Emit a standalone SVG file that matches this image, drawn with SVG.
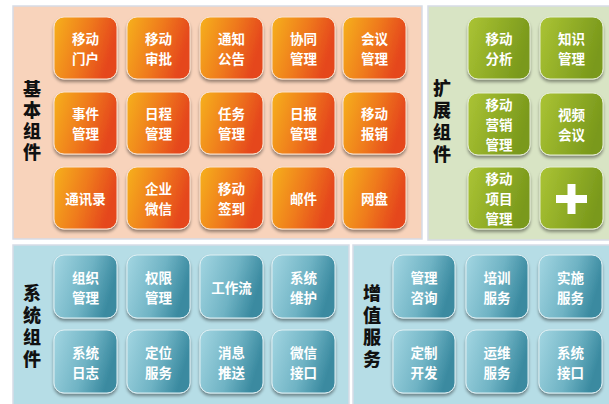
<svg xmlns="http://www.w3.org/2000/svg" width="609" height="404" viewBox="0 0 609 404">
<defs>
<linearGradient id="gO" x1="0" y1="0" x2="1" y2="0.3"><stop offset="0" stop-color="#f6b11d"/><stop offset="0.55" stop-color="#ef7a1c"/><stop offset="1" stop-color="#e5461a"/></linearGradient>
<linearGradient id="gG" x1="0" y1="0" x2="1" y2="0.3"><stop offset="0" stop-color="#abc434"/><stop offset="1" stop-color="#7a991c"/></linearGradient>
<linearGradient id="gB" x1="0" y1="0" x2="1" y2="0.3"><stop offset="0" stop-color="#a3d6e2"/><stop offset="0.6" stop-color="#6fb3c4"/><stop offset="1" stop-color="#3a8aa0"/></linearGradient>
<filter id="sh" x="-20%" y="-20%" width="140%" height="150%"><feDropShadow dx="0" dy="2.5" stdDeviation="1.5" flood-color="#000" flood-opacity="0.4"/></filter>
</defs>
<style>
.pO{fill:#f8d3bb;stroke:#d6dbe6;stroke-width:1.5}
.pG{fill:#d8e4c4;stroke:#d6dbe6;stroke-width:1.5}
.pB{fill:#b6dde6;stroke:#d6dbe6;stroke-width:1.5}
.tO{fill:url(#gO);stroke:#fbe3cf;stroke-width:1;filter:url(#sh)}
.tG{fill:url(#gG);stroke:#e6eed6;stroke-width:1;filter:url(#sh)}
.tB{fill:url(#gB);stroke:#dff0f4;stroke-width:1;filter:url(#sh)}
text{font-family:"Noto Sans CJK SC","Noto Sans",sans-serif;text-anchor:middle;dominant-baseline:central}
.t{font-size:13.5px;font-weight:700;fill:#fff}
.h{font-size:18px;font-weight:900;fill:#111;writing-mode:vertical-rl;letter-spacing:4px}
</style>
<rect width="609" height="404" fill="#fff"/>
<g id="panels">
<rect class="pO" x="13" y="6" width="409" height="233"/>
<rect class="pG" x="428" y="6" width="185" height="234"/>
<rect class="pB" x="13" y="245" width="336" height="160"/>
<rect class="pB" x="353" y="245" width="260" height="160"/>
</g>
<g id="label-basic"><text class="h" x="32" y="122" style="letter-spacing:3px">基本组件</text></g>
<g id="label-ext"><text class="h" x="442" y="123">扩展组件</text></g>
<g id="label-sys"><text class="h" x="32" y="328">系统组件</text></g>
<g id="label-svc"><text class="h" x="372" y="328">增值服务</text></g>

<g id="o11"><rect class="tO" x="54" y="17" width="63" height="62" rx="10"/><text class="t" x="85.5" y="38.4">移动</text><text class="t" x="85.5" y="58">门户</text></g>
<g id="o12"><rect class="tO" x="127" y="17" width="63" height="62" rx="10"/><text class="t" x="158.5" y="38.4">移动</text><text class="t" x="158.5" y="58">审批</text></g>
<g id="o13"><rect class="tO" x="200" y="17" width="63" height="62" rx="10"/><text class="t" x="231.5" y="38.4">通知</text><text class="t" x="231.5" y="58">公告</text></g>
<g id="o14"><rect class="tO" x="272" y="17" width="63" height="62" rx="10"/><text class="t" x="303.5" y="38.4">协同</text><text class="t" x="303.5" y="58">管理</text></g>
<g id="o15"><rect class="tO" x="343" y="17" width="63" height="62" rx="10"/><text class="t" x="374.5" y="38.4">会议</text><text class="t" x="374.5" y="58">管理</text></g>

<g id="o21"><rect class="tO" x="54" y="92" width="63" height="62" rx="10"/><text class="t" x="85.5" y="113.4">事件</text><text class="t" x="85.5" y="133">管理</text></g>
<g id="o22"><rect class="tO" x="127" y="92" width="63" height="62" rx="10"/><text class="t" x="158.5" y="113.4">日程</text><text class="t" x="158.5" y="133">管理</text></g>
<g id="o23"><rect class="tO" x="200" y="92" width="63" height="62" rx="10"/><text class="t" x="231.5" y="113.4">任务</text><text class="t" x="231.5" y="133">管理</text></g>
<g id="o24"><rect class="tO" x="272" y="92" width="63" height="62" rx="10"/><text class="t" x="303.5" y="113.4">日报</text><text class="t" x="303.5" y="133">管理</text></g>
<g id="o25"><rect class="tO" x="343" y="92" width="63" height="62" rx="10"/><text class="t" x="374.5" y="113.4">移动</text><text class="t" x="374.5" y="133">报销</text></g>

<g id="o31"><rect class="tO" x="54" y="167" width="63" height="62" rx="10"/><text class="t" x="85.5" y="198">通讯录</text></g>
<g id="o32"><rect class="tO" x="127" y="167" width="63" height="62" rx="10"/><text class="t" x="158.5" y="188.4">企业</text><text class="t" x="158.5" y="208">微信</text></g>
<g id="o33"><rect class="tO" x="200" y="167" width="63" height="62" rx="10"/><text class="t" x="231.5" y="188.4">移动</text><text class="t" x="231.5" y="208">签到</text></g>
<g id="o34"><rect class="tO" x="272" y="167" width="63" height="62" rx="10"/><text class="t" x="303.5" y="198">邮件</text></g>
<g id="o35"><rect class="tO" x="343" y="167" width="63" height="62" rx="10"/><text class="t" x="374.5" y="198">网盘</text></g>

<g id="g11"><rect class="tG" x="468" y="17" width="62" height="62" rx="10"/><text class="t" x="499" y="38.4">移动</text><text class="t" x="499" y="58">分析</text></g>
<g id="g12"><rect class="tG" x="540" y="17" width="63" height="62" rx="10"/><text class="t" x="571.5" y="38.4">知识</text><text class="t" x="571.5" y="58">管理</text></g>
<g id="g21"><rect class="tG" x="468" y="93" width="62" height="62" rx="10"/><text class="t" x="499" y="104.4">移动</text><text class="t" x="499" y="124">营销</text><text class="t" x="499" y="143.6">管理</text></g>
<g id="g22"><rect class="tG" x="540" y="93" width="63" height="62" rx="10"/><text class="t" x="571.5" y="114.4">视频</text><text class="t" x="571.5" y="134">会议</text></g>
<g id="g31"><rect class="tG" x="468" y="167" width="62" height="62" rx="10"/><text class="t" x="499" y="178.4">移动</text><text class="t" x="499" y="198">项目</text><text class="t" x="499" y="217.6">管理</text></g>
<g id="g32"><rect class="tG" x="540" y="167" width="63" height="62" rx="10"/><rect x="556" y="195" width="31" height="8" fill="#fff"/><rect x="567.5" y="184" width="8" height="30" fill="#fff"/></g>

<g id="s11"><rect class="tB" x="54" y="255" width="63" height="63" rx="10"/><text class="t" x="85.5" y="276.9">组织</text><text class="t" x="85.5" y="296.5">管理</text></g>
<g id="s12"><rect class="tB" x="127" y="255" width="63" height="63" rx="10"/><text class="t" x="158.5" y="276.9">权限</text><text class="t" x="158.5" y="296.5">管理</text></g>
<g id="s13"><rect class="tB" x="200" y="255" width="63" height="63" rx="10"/><text class="t" x="231.5" y="286.5">工作流</text></g>
<g id="s14"><rect class="tB" x="272" y="255" width="63" height="63" rx="10"/><text class="t" x="303.5" y="276.9">系统</text><text class="t" x="303.5" y="296.5">维护</text></g>
<g id="s21"><rect class="tB" x="54" y="330" width="63" height="63" rx="10"/><text class="t" x="85.5" y="351.9">系统</text><text class="t" x="85.5" y="371.5">日志</text></g>
<g id="s22"><rect class="tB" x="127" y="330" width="63" height="63" rx="10"/><text class="t" x="158.5" y="351.9">定位</text><text class="t" x="158.5" y="371.5">服务</text></g>
<g id="s23"><rect class="tB" x="200" y="330" width="63" height="63" rx="10"/><text class="t" x="231.5" y="351.9">消息</text><text class="t" x="231.5" y="371.5">推送</text></g>
<g id="s24"><rect class="tB" x="272" y="330" width="63" height="63" rx="10"/><text class="t" x="303.5" y="351.9">微信</text><text class="t" x="303.5" y="371.5">接口</text></g>

<g id="v11"><rect class="tB" x="393" y="255" width="62" height="63" rx="10"/><text class="t" x="424" y="276.9">管理</text><text class="t" x="424" y="296.5">咨询</text></g>
<g id="v12"><rect class="tB" x="466" y="255" width="62" height="63" rx="10"/><text class="t" x="497" y="276.9">培训</text><text class="t" x="497" y="296.5">服务</text></g>
<g id="v13"><rect class="tB" x="539" y="255" width="63" height="63" rx="10"/><text class="t" x="570.5" y="276.9">实施</text><text class="t" x="570.5" y="296.5">服务</text></g>
<g id="v21"><rect class="tB" x="393" y="330" width="62" height="63" rx="10"/><text class="t" x="424" y="351.9">定制</text><text class="t" x="424" y="371.5">开发</text></g>
<g id="v22"><rect class="tB" x="466" y="330" width="62" height="63" rx="10"/><text class="t" x="497" y="351.9">运维</text><text class="t" x="497" y="371.5">服务</text></g>
<g id="v23"><rect class="tB" x="539" y="330" width="63" height="63" rx="10"/><text class="t" x="570.5" y="351.9">系统</text><text class="t" x="570.5" y="371.5">接口</text></g>
<g id="connectors"/>
</svg>
